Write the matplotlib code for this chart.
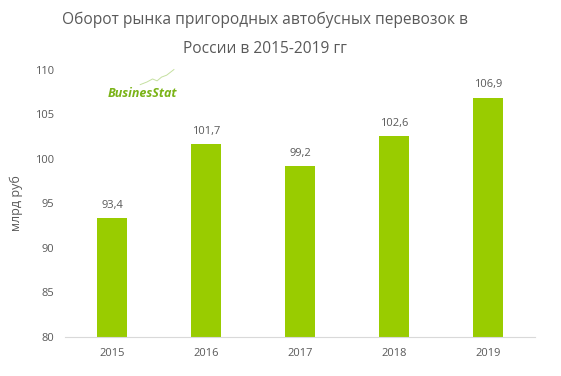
import matplotlib
matplotlib.use('Agg')
from matplotlib import pyplot as plt
from matplotlib.lines import Line2D

years = ['2015', '2016', '2017', '2018', '2019']
values = [93.4, 101.7, 99.2, 102.6, 106.9]
labels = ['93,4', '101,7', '99,2', '102,6', '106,9']

plt.rcParams['font.family'] = ['Open Sans', 'DejaVu Sans']
grey = '#595959'
green = '#99CC00'

fig = plt.figure(figsize=(5.61, 3.76), dpi=100)
ax = fig.add_axes([0.116, 0.1037, 0.838, 0.7103])

x = range(len(years))
ax.bar(x, values, width=0.32, color=green, zorder=2)
ax.set_ylim(80, 110)
ax.set_xlim(-0.5, len(years) - 0.5)
ax.set_yticks(range(80, 111, 5))
ax.set_xticks(list(x))
ax.set_xticklabels(years)
ax.tick_params(axis='both', length=0, labelsize=8, colors=grey)
ax.tick_params(axis='x', pad=8)
ax.tick_params(axis='y', pad=8)
for s in ['top', 'right', 'left']:
    ax.spines[s].set_visible(False)
ax.spines['bottom'].set_color('#d9d9d9')

for i, v in enumerate(values):
    ax.text(i, v + 0.8, labels[i], ha='center', va='bottom', fontsize=8, color=grey)

ax.set_ylabel('млрд руб', fontsize=9, color=grey)
ax.yaxis.set_label_coords(-0.09, 0.5)

fig.text(0.472, 0.908, 'Оборот рынка пригородных автобусных перевозок в\nРоссии в 2015-2019 гг',
         ha='center', va='center', fontsize=11.2, color=grey, linespacing=2.05)

# logo
fig.text(0.192, 0.752, 'BusinesStat', fontsize=9, color='#7ab317', fontweight='bold',
         fontstyle='italic', ha='left', va='center')
fig.add_artist(Line2D([0.25, 0.262, 0.272, 0.28, 0.288, 0.297, 0.31],
                      [0.775, 0.782, 0.79, 0.785, 0.795, 0.80, 0.815],
                      transform=fig.transFigure, color='#c5e0a0', lw=0.7))

plt.savefig('out.png', dpi=100)
